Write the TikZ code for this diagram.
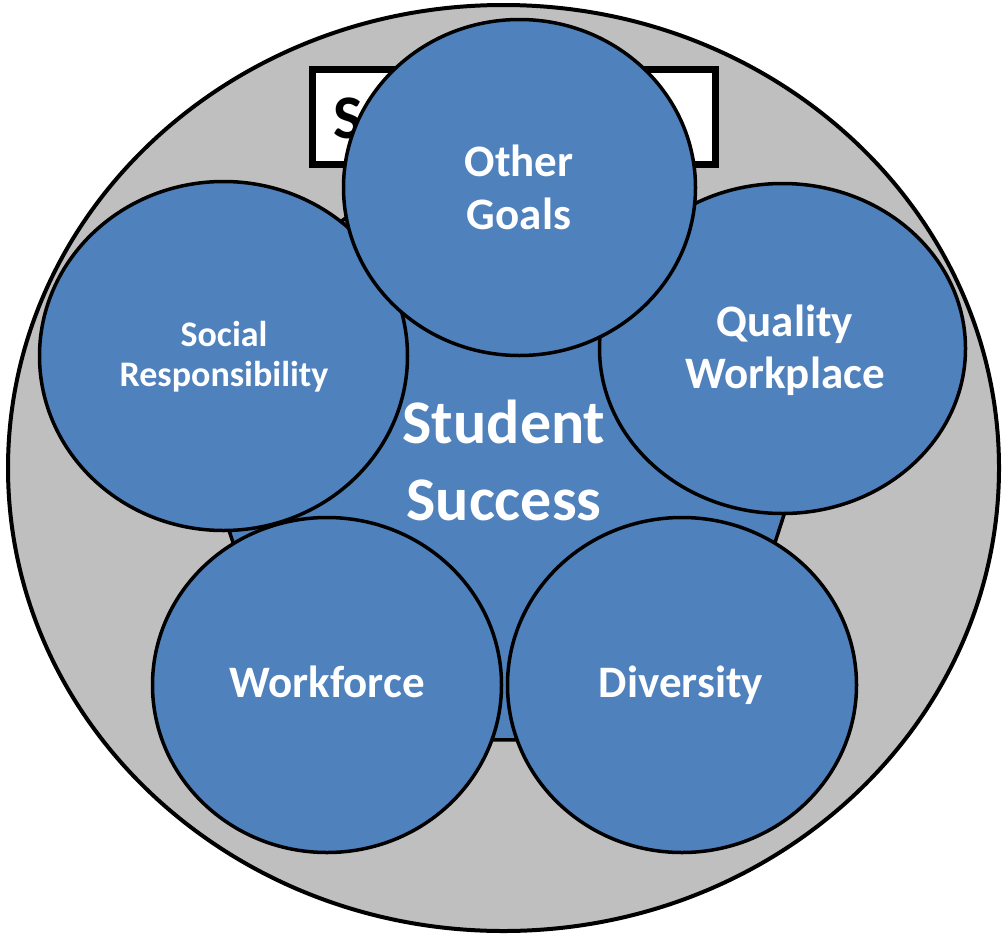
\documentclass[tikz,border=0pt]{standalone}
\usepackage{fontspec}
\setmainfont{Carlito}
\usetikzlibrary{shapes.geometric}
\definecolor{bblue}{HTML}{4F81BD}
\definecolor{bgray}{HTML}{BFBFBF}
\begin{document}
\begin{tikzpicture}[x=1pt,y=-1pt,
  goal/.style={ellipse, draw=black, line width=3.5pt, fill=bblue, inner sep=0pt},
  wtxt/.style={text=white, font=\bfseries\fontsize{45}{54}\selectfont, inner sep=0pt, anchor=base},
  stxt/.style={text=white, font=\bfseries\fontsize{36}{44}\selectfont, inner sep=0pt, anchor=base},
  btxt/.style={text=white, font=\bfseries\fontsize{62}{74}\selectfont, inner sep=0pt, anchor=base}
 ]
\useasboundingbox (0,0) rectangle (1003,937);
% outer gray circle
\node[ellipse, draw=black, line width=4pt, fill=bgray, minimum width=991pt, minimum height=926pt, inner sep=0pt] (outer) at (503.5,468) {};
% strategic plan box
\node[draw=black, line width=7pt, fill=white, minimum width=403pt, minimum height=95pt, inner sep=0pt] (plan) at (513.5,116.5) {};
\node[anchor=base west, inner sep=0pt, font=\bfseries\fontsize{62}{74}\selectfont] (plantxt) at (333,138) {Strategic Plan};
% central pentagon
\node[regular polygon, regular polygon sides=5, minimum size=704pt, draw=black, line width=3.5pt, fill=bblue, inner sep=0pt] (core) at (504,455) {};
\node[btxt] (core1) at (504,443) {Student};
\node[btxt] (core2) at (504,520) {Success};
% goal ellipses
\node[goal, minimum width=368pt, minimum height=349pt] (social) at (223.5,356) {};
\node[goal, minimum width=366pt, minimum height=330pt] (quality) at (782.5,348.5) {};
\node[goal, minimum width=349pt, minimum height=335pt] (workforce) at (327,685) {};
\node[goal, minimum width=349pt, minimum height=335pt] (diversity) at (682,685) {};
\node[goal, minimum width=352pt, minimum height=336pt] (other) at (519.5,187.5) {};
% labels
\node[stxt] (social1) at (224,346) {Social};
\node[stxt] (social2) at (224,386) {Responsibility};
\node[wtxt] (quality1) at (785,336) {Quality};
\node[wtxt] (quality2) at (785,388) {Workplace};
\node[wtxt] (workforce1) at (327,697) {Workforce};
\node[wtxt] (diversity1) at (681,697) {Diversity};
\node[wtxt] (other1) at (519,176) {Other};
\node[wtxt] (other2) at (519,229) {Goals};
\end{tikzpicture}
\end{document}
